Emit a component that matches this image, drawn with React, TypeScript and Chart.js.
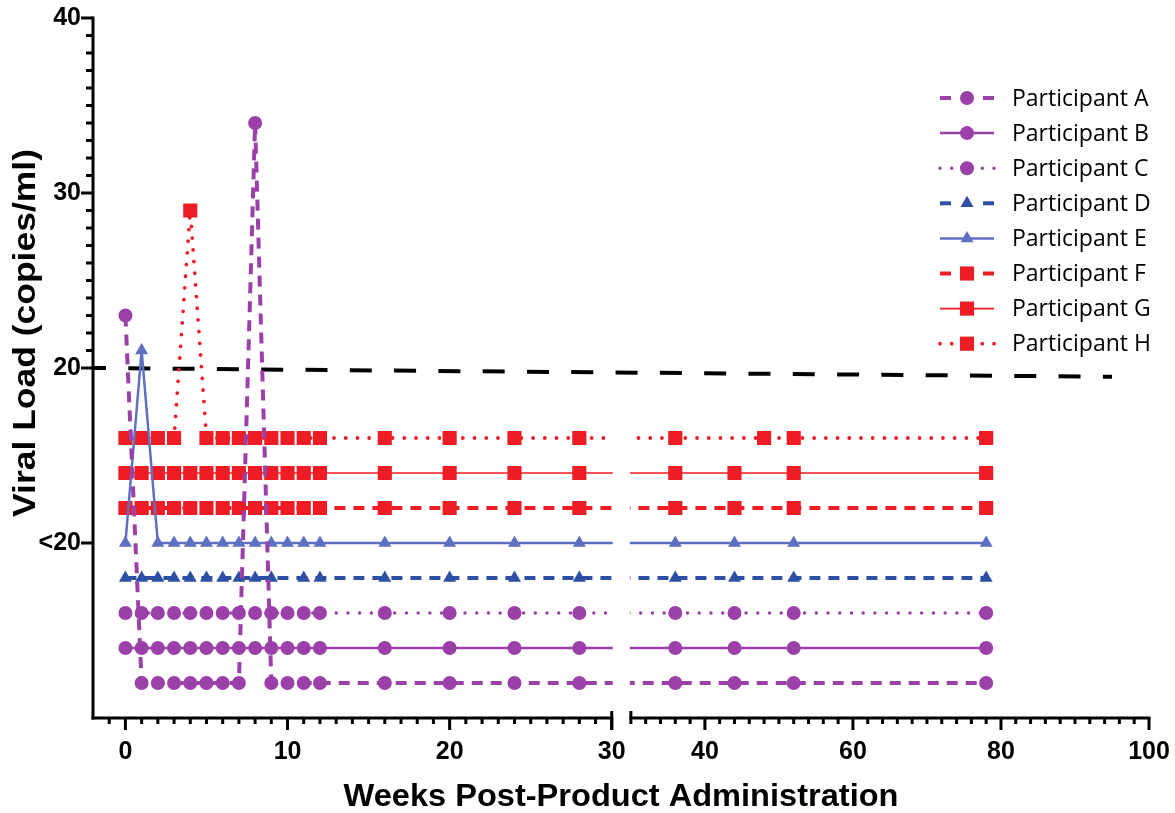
import React, { useEffect, useRef } from "react";
import { Chart, registerables } from "chart.js";

Chart.register(...registerables);

// Sampling weeks for each participant
const weeksMain = [0, 1, 2, 3, 4, 5, 6, 7, 8, 9, 10, 11, 12, 16, 20, 24, 28, 36, 44, 52, 78];
const weeksD = [0, 1, 2, 3, 4, 5, 6, 7, 8, 9, 11, 12, 16, 20, 24, 28, 36, 44, 52, 78];
const weeksH = [0, 1, 2, 3, 4, 5, 6, 7, 8, 9, 10, 11, 12, 16, 20, 24, 28, 36, 48, 52, 78];

// Viral load (copies/ml). Undetectable results (<20) are shown in separate lanes per participant.
const loadA = [23, 2, 2, 2, 2, 2, 2, 2, 34, 2, 2, 2, 2, 2, 2, 2, 2, 2, 2, 2, 2];
const loadB = [4, 4, 4, 4, 4, 4, 4, 4, 4, 4, 4, 4, 4, 4, 4, 4, 4, 4, 4, 4, 4];
const loadC = [6, 6, 6, 6, 6, 6, 6, 6, 6, 6, 6, 6, 6, 6, 6, 6, 6, 6, 6, 6, 6];
const loadD = [8, 8, 8, 8, 8, 8, 8, 8, 8, 8, 8, 8, 8, 8, 8, 8, 8, 8, 8, 8];
const loadE = [10, 21, 10, 10, 10, 10, 10, 10, 10, 10, 10, 10, 10, 10, 10, 10, 10, 10, 10, 10, 10];
const loadF = [12, 12, 12, 12, 12, 12, 12, 12, 12, 12, 12, 12, 12, 12, 12, 12, 12, 12, 12, 12, 12];
const loadG = [14, 14, 14, 14, 14, 14, 14, 14, 14, 14, 14, 14, 14, 14, 14, 14, 14, 14, 14, 14, 14];
const loadH = [16, 16, 16, 16, 29, 16, 16, 16, 16, 16, 16, 16, 16, 16, 16, 16, 16, 16, 16, 16, 16];

// Detection limit reference line
const limitWeeks = [-2, 95];
const limitLoad = [20, 19.5];

// Axis ticks
const xLabelWeeks = [0, 10, 20, 30, 40, 60, 80, 100];
const yTickValues = [10, 20, 30, 40];
const yTickLabels = ["<20", "20", "30", "40"];

const participantNames = [
  "Participant A",
  "Participant B",
  "Participant C",
  "Participant D",
  "Participant E",
  "Participant F",
  "Participant G",
  "Participant H",
];

// Broken x axis: weeks 0-30 at full scale, then weeks 30-100 compressed
const X_BREAK = 30;
const X_GAP = 1.18;
const X_RIGHT_FACTOR = 0.4566;
const X_START = -2;
const X_END = 100;
const toAxis = (w: number) => (w <= X_BREAK ? w : X_BREAK + X_GAP + (w - X_BREAK) * X_RIGHT_FACTOR);

const PURPLE = "#9a40a8";
const BLUE_DARK = "#2d4fa4";
const BLUE_LIGHT = "#5f6fc1";
const RED = "#ee1d25";

const TICK_FONT = '"Liberation Sans", Arial, sans-serif';

type Style = {
  color: string;
  width: number;
  dash: number[];
  cap: CanvasLineCap;
  point: "circle" | "triangle" | "rect";
  radius: number;
};

const DASHED = [11, 8];
const DOTTED = [0.01, 11.7];

const styles: Style[] = [
  { color: PURPLE, width: 4, dash: DASHED, cap: "butt", point: "circle", radius: 7 },
  { color: PURPLE, width: 2.5, dash: [], cap: "butt", point: "circle", radius: 7 },
  { color: PURPLE, width: 3.5, dash: DOTTED, cap: "round", point: "circle", radius: 7 },
  { color: BLUE_DARK, width: 4, dash: DASHED, cap: "butt", point: "triangle", radius: 7.5 },
  { color: BLUE_LIGHT, width: 2.5, dash: [], cap: "butt", point: "triangle", radius: 7.5 },
  { color: RED, width: 4, dash: DASHED, cap: "butt", point: "rect", radius: 10 },
  { color: RED, width: 1.6, dash: [], cap: "butt", point: "rect", radius: 10 },
  { color: RED, width: 3.8, dash: DOTTED, cap: "round", point: "rect", radius: 10 },
];

const seriesWeeks = [weeksMain, weeksMain, weeksMain, weeksD, weeksMain, weeksMain, weeksMain, weeksH];
const seriesLoad = [loadA, loadB, loadC, loadD, loadE, loadF, loadG, loadH];

function line(ctx: CanvasRenderingContext2D, x1: number, y1: number, x2: number, y2: number) {
  ctx.beginPath();
  ctx.moveTo(x1, y1);
  ctx.lineTo(x2, y2);
  ctx.stroke();
}

function drawMarker(ctx: CanvasRenderingContext2D, s: Style, x: number, y: number) {
  const r = s.radius;
  ctx.fillStyle = s.color;
  ctx.beginPath();
  if (s.point === "circle") {
    ctx.arc(x, y, r, 0, Math.PI * 2);
  } else if (s.point === "triangle") {
    ctx.moveTo(x, y - r);
    ctx.lineTo(x + r * Math.sin(Math.PI * 2 / 3), y + r / 2);
    ctx.lineTo(x - r * Math.sin(Math.PI * 2 / 3), y + r / 2);
    ctx.closePath();
  } else {
    const h = r * Math.SQRT1_2;
    ctx.rect(x - h, y - h, 2 * h, 2 * h);
  }
  ctx.fill();
}

// Draws the axis lines, the break in the x axis and all tick marks
const axesPlugin = {
  id: "brokenAxes",
  beforeDatasetsDraw(chart: any) {
    const { ctx, chartArea: a, scales } = chart;
    const xs = scales.x;
    const ys = scales.y;
    ctx.save();
    ctx.strokeStyle = "#000";
    ctx.lineWidth = 3;
    ctx.lineCap = "butt";

    line(ctx, a.left, a.top - 1.5, a.left, a.bottom + 1.5);
    yTickValues.forEach((v) => {
      const py = ys.getPixelForValue(v);
      line(ctx, a.left - 12, py, a.left, py);
    });
    for (let v = 21; v < 40; v++) {
      if (v === 30) continue;
      const py = ys.getPixelForValue(v);
      line(ctx, a.left - 7, py, a.left, py);
    }

    const xb1 = xs.getPixelForValue(toAxis(X_BREAK));
    const xb2 = xs.getPixelForValue(X_BREAK + X_GAP);
    line(ctx, a.left - 1.5, a.bottom, xb1 + 1.5, a.bottom);
    line(ctx, xb2 - 1.5, a.bottom, a.right + 1.5, a.bottom);
    line(ctx, xb1, a.bottom - 7, xb1, a.bottom + 12);
    line(ctx, xb2, a.bottom - 7, xb2, a.bottom + 6);

    xLabelWeeks.forEach((w) => {
      const px = xs.getPixelForValue(toAxis(w));
      line(ctx, px, a.bottom, px, a.bottom + 12);
    });
    for (let w = -1; w < X_BREAK; w++) {
      if (w % 10 === 0) continue;
      const px = xs.getPixelForValue(toAxis(w));
      line(ctx, px, a.bottom, px, a.bottom + 6);
    }
    for (let w = 32; w < X_END; w += 2) {
      if (w % 20 === 0) continue;
      const px = xs.getPixelForValue(toAxis(w));
      line(ctx, px, a.bottom, px, a.bottom + 6);
    }
    ctx.restore();
  },
  // Participant lines are interrupted where the x axis is broken
  beforeDatasetDraw(chart: any, args: any) {
    if (args.index >= participantNames.length) return;
    const { ctx, scales } = chart;
    const xb1 = scales.x.getPixelForValue(toAxis(X_BREAK));
    const xb2 = scales.x.getPixelForValue(X_BREAK + X_GAP);
    ctx.save();
    ctx.beginPath();
    ctx.rect(0, 0, xb1 + 1, chart.height);
    ctx.rect(xb2 - 1, 0, chart.width - xb2 + 1, chart.height);
    ctx.clip();
  },
  afterDatasetDraw(chart: any, args: any) {
    if (args.index >= participantNames.length) return;
    chart.ctx.restore();
  },
};

function fitText(ctx: CanvasRenderingContext2D, text: string, width: number) {
  const natural = ctx.measureText(text).width;
  ctx.scale(width / natural, 1);
}

// Legend with line samples, axis titles
const legendPlugin = {
  id: "lineLegend",
  afterDraw(chart: any) {
    const { ctx, chartArea: a } = chart;
    ctx.save();
    participantNames.forEach((name, i) => {
      const s = styles[i];
      const y = 98 + i * 35.1;
      ctx.save();
      ctx.strokeStyle = s.color;
      ctx.lineWidth = s.width;
      ctx.lineCap = s.cap;
      ctx.setLineDash(s.dash);
      if (s.dash.length) {
        line(ctx, 940, y, 956, y);
        line(ctx, 994, y, 978, y);
      } else {
        line(ctx, 940, y, 994, y);
      }
      ctx.restore();
      drawMarker(ctx, s, 967, y);
      ctx.fillStyle = "#000";
      ctx.font = '23px "Open Sans", sans-serif';
      ctx.textAlign = "left";
      ctx.textBaseline = "middle";
      ctx.fillText(name, 1012, y + 1);
    });

    ctx.fillStyle = "#000";
    ctx.textAlign = "center";
    ctx.textBaseline = "middle";
    ctx.font = `bold 32px ${TICK_FONT}`;
    ctx.save();
    ctx.translate((a.left + a.right) / 2, 797);
    fitText(ctx, "Weeks Post-Product Administration", 555);
    ctx.fillText("Weeks Post-Product Administration", 0, 0);
    ctx.restore();

    ctx.save();
    ctx.font = `bold 31px ${TICK_FONT}`;
    ctx.translate(26, 333);
    ctx.rotate(-Math.PI / 2);
    fitText(ctx, "Viral Load (copies/ml)", 368);
    ctx.fillText("Viral Load (copies/ml)", 0, 0);
    ctx.restore();
    ctx.restore();
  },
};

export default function App() {
  const canvasRef = useRef<HTMLCanvasElement | null>(null);

  useEffect(() => {
    if (!canvasRef.current) return;
    const datasets: any[] = participantNames.map((name, i) => {
      const s = styles[i];
      return {
        label: name,
        data: seriesWeeks[i].map((w, j) => ({ x: toAxis(w), y: seriesLoad[i][j] })),
        borderColor: s.color,
        backgroundColor: s.color,
        borderWidth: s.width,
        borderDash: s.dash,
        borderCapStyle: s.cap,
        pointStyle: s.point,
        pointRadius: s.radius,
        pointBorderWidth: 0,
        pointBackgroundColor: s.color,
        tension: 0,
        clip: false,
      };
    });
    datasets.push({
      label: "Limit",
      data: limitWeeks.map((w, j) => ({ x: toAxis(w), y: limitLoad[j] })),
      borderColor: "#000",
      borderWidth: 4,
      borderDash: [22, 22.3],
      borderDashOffset: 9,
      pointRadius: 0,
      tension: 0,
      clip: false,
    });

    const chart = new Chart(canvasRef.current, {
      type: "line",
      data: { datasets },
      options: {
        animation: false,
        responsive: true,
        maintainAspectRatio: false,
        events: [],
        layout: { padding: { top: 18, right: 26, left: 0, bottom: 0 } },
        plugins: { legend: { display: false }, tooltip: { enabled: false } },
        scales: {
          x: {
            type: "linear",
            min: toAxis(X_START),
            max: toAxis(X_END),
            grid: { display: false, drawTicks: false },
            border: { display: false },
            afterBuildTicks: (scale: any) => {
              scale.ticks = xLabelWeeks.map((w) => ({ value: toAxis(w) }));
            },
            afterFit: (scale: any) => {
              scale.height = 95;
              scale.paddingLeft = 0;
              scale.paddingRight = 0;
            },
            ticks: {
              autoSkip: false,
              maxRotation: 0,
              padding: 19,
              color: "#000",
              font: { family: TICK_FONT, weight: "bold", size: 25 },
              callback: (_v: any, index: number) => String(xLabelWeeks[index]),
            },
          },
          y: {
            type: "linear",
            min: 0,
            max: 40,
            grid: { display: false, drawTicks: false },
            border: { display: false },
            afterBuildTicks: (scale: any) => {
              scale.ticks = yTickValues.map((v) => ({ value: v }));
            },
            afterFit: (scale: any) => {
              scale.width = 93;
              scale.paddingTop = 0;
              scale.paddingBottom = 0;
            },
            ticks: {
              autoSkip: false,
              padding: 12,
              color: "#000",
              font: { family: TICK_FONT, weight: "bold", size: 25 },
              callback: (_v: any, index: number) => yTickLabels[index],
            },
          },
        },
      },
      plugins: [axesPlugin, legendPlugin],
    } as any);
    return () => chart.destroy();
  }, []);

  return (
    <div style={{ position: "absolute", left: 0, top: 0, width: 1175, height: 813, background: "#fff" }}>
      <canvas ref={canvasRef} />
    </div>
  );
}
